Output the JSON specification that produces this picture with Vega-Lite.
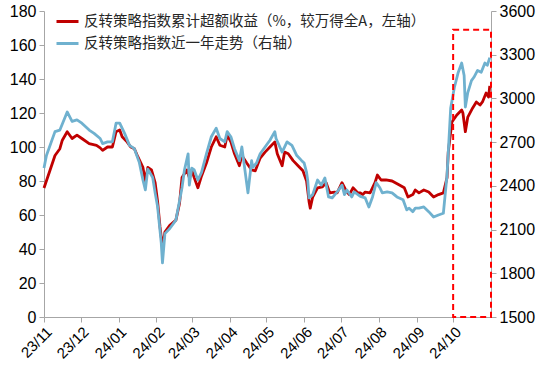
{
  "$schema": "https://vega.github.io/schema/vega-lite/v6.json",
  "width": 447,
  "height": 306,
  "autosize": "none",
  "padding": {"left": 44, "top": 11, "right": 59, "bottom": 59},
  "background": "white",
  "config": {
    "view": {"stroke": null},
    "font": "Liberation Sans",
    "axis": {
      "domainColor": "#A6A6A6",
      "tickColor": "#A6A6A6",
      "tickSize": 5,
      "grid": false,
      "labelColor": "#000000",
      "labelFont": "Liberation Sans",
      "labelFontSize": 16,
      "title": null
    },
    "legend": {
      "orient": "none",
      "legendX": 11,
      "legendY": -2,
      "symbolType": "stroke",
      "symbolStrokeWidth": 3,
      "symbolSize": 484,
      "labelFont": "Noto Sans CJK SC",
      "labelFontSize": 14.5,
      "labelColor": "#262626",
      "labelLimit": 500,
      "rowPadding": 3,
      "title": null
    }
  },
  "datasets": {
    "red": [
      {"date": "2023-11-01", "v": 75.9},
      {"date": "2023-11-06", "v": 86.5},
      {"date": "2023-11-10", "v": 95},
      {"date": "2023-11-14", "v": 99},
      {"date": "2023-11-16", "v": 104},
      {"date": "2023-11-20", "v": 109},
      {"date": "2023-11-24", "v": 105},
      {"date": "2023-11-28", "v": 107},
      {"date": "2023-12-02", "v": 105},
      {"date": "2023-12-08", "v": 102},
      {"date": "2023-12-14", "v": 101},
      {"date": "2023-12-17", "v": 99.5},
      {"date": "2023-12-19", "v": 98},
      {"date": "2023-12-23", "v": 100},
      {"date": "2023-12-27", "v": 100},
      {"date": "2023-12-30", "v": 109},
      {"date": "2024-01-02", "v": 110},
      {"date": "2024-01-04", "v": 106},
      {"date": "2024-01-08", "v": 103},
      {"date": "2024-01-11", "v": 100},
      {"date": "2024-01-14", "v": 99},
      {"date": "2024-01-17", "v": 94},
      {"date": "2024-01-21", "v": 88},
      {"date": "2024-01-23", "v": 80},
      {"date": "2024-01-25", "v": 88},
      {"date": "2024-01-28", "v": 86.5},
      {"date": "2024-01-31", "v": 79},
      {"date": "2024-02-02", "v": 68},
      {"date": "2024-02-04", "v": 53},
      {"date": "2024-02-06", "v": 41},
      {"date": "2024-02-08", "v": 50},
      {"date": "2024-02-12", "v": 54},
      {"date": "2024-02-17", "v": 57},
      {"date": "2024-02-20", "v": 67},
      {"date": "2024-02-22", "v": 82},
      {"date": "2024-02-26", "v": 86.5},
      {"date": "2024-02-28", "v": 82},
      {"date": "2024-03-01", "v": 86.5},
      {"date": "2024-03-03", "v": 82},
      {"date": "2024-03-06", "v": 76},
      {"date": "2024-03-09", "v": 83},
      {"date": "2024-03-13", "v": 90.6},
      {"date": "2024-03-17", "v": 100},
      {"date": "2024-03-21", "v": 106},
      {"date": "2024-03-24", "v": 101},
      {"date": "2024-03-28", "v": 100},
      {"date": "2024-03-30", "v": 107},
      {"date": "2024-04-02", "v": 103},
      {"date": "2024-04-05", "v": 96},
      {"date": "2024-04-09", "v": 89},
      {"date": "2024-04-11", "v": 95},
      {"date": "2024-04-15", "v": 90.6},
      {"date": "2024-04-19", "v": 86.5},
      {"date": "2024-04-22", "v": 86},
      {"date": "2024-04-26", "v": 93.5},
      {"date": "2024-04-30", "v": 97},
      {"date": "2024-05-04", "v": 100},
      {"date": "2024-05-08", "v": 103},
      {"date": "2024-05-10", "v": 96},
      {"date": "2024-05-14", "v": 89},
      {"date": "2024-05-16", "v": 97},
      {"date": "2024-05-19", "v": 96},
      {"date": "2024-05-23", "v": 92},
      {"date": "2024-05-27", "v": 89},
      {"date": "2024-05-31", "v": 86},
      {"date": "2024-06-03", "v": 80},
      {"date": "2024-06-05", "v": 68},
      {"date": "2024-06-06", "v": 64},
      {"date": "2024-06-08", "v": 70.6},
      {"date": "2024-06-12", "v": 76},
      {"date": "2024-06-16", "v": 76.5},
      {"date": "2024-06-19", "v": 79},
      {"date": "2024-06-22", "v": 73},
      {"date": "2024-06-26", "v": 73.5},
      {"date": "2024-06-28", "v": 73},
      {"date": "2024-07-02", "v": 79},
      {"date": "2024-07-06", "v": 73.5},
      {"date": "2024-07-08", "v": 72},
      {"date": "2024-07-11", "v": 76},
      {"date": "2024-07-15", "v": 73},
      {"date": "2024-07-17", "v": 73},
      {"date": "2024-07-19", "v": 72},
      {"date": "2024-07-21", "v": 73.5},
      {"date": "2024-07-25", "v": 73},
      {"date": "2024-07-29", "v": 79},
      {"date": "2024-07-31", "v": 83.5},
      {"date": "2024-08-03", "v": 80.6},
      {"date": "2024-08-07", "v": 80.6},
      {"date": "2024-08-12", "v": 80},
      {"date": "2024-08-18", "v": 77.6},
      {"date": "2024-08-22", "v": 76},
      {"date": "2024-08-25", "v": 70.6},
      {"date": "2024-08-29", "v": 72},
      {"date": "2024-08-31", "v": 74.7},
      {"date": "2024-09-03", "v": 73},
      {"date": "2024-09-07", "v": 74.7},
      {"date": "2024-09-11", "v": 73.5},
      {"date": "2024-09-15", "v": 70.6},
      {"date": "2024-09-19", "v": 72},
      {"date": "2024-09-23", "v": 73},
      {"date": "2024-09-26", "v": 82},
      {"date": "2024-09-27", "v": 97},
      {"date": "2024-09-30", "v": 114.7},
      {"date": "2024-10-04", "v": 118.8},
      {"date": "2024-10-08", "v": 121.8},
      {"date": "2024-10-09", "v": 120},
      {"date": "2024-10-11", "v": 109},
      {"date": "2024-10-13", "v": 117.6},
      {"date": "2024-10-17", "v": 123},
      {"date": "2024-10-20", "v": 126.5},
      {"date": "2024-10-23", "v": 124.7},
      {"date": "2024-10-25", "v": 126.5},
      {"date": "2024-10-28", "v": 131.8},
      {"date": "2024-10-30", "v": 129.4},
      {"date": "2024-10-31", "v": 136}
    ],
    "blue": [
      {"date": "2023-11-01", "v": 2522},
      {"date": "2023-11-03", "v": 2608},
      {"date": "2023-11-10", "v": 2772},
      {"date": "2023-11-14", "v": 2783},
      {"date": "2023-11-20", "v": 2907},
      {"date": "2023-11-24", "v": 2842},
      {"date": "2023-11-28", "v": 2853},
      {"date": "2023-12-02", "v": 2830},
      {"date": "2023-12-08", "v": 2783},
      {"date": "2023-12-12", "v": 2760},
      {"date": "2023-12-17", "v": 2725},
      {"date": "2023-12-19", "v": 2690},
      {"date": "2023-12-23", "v": 2702},
      {"date": "2023-12-27", "v": 2702},
      {"date": "2023-12-30", "v": 2830},
      {"date": "2024-01-02", "v": 2830},
      {"date": "2024-01-06", "v": 2760},
      {"date": "2024-01-10", "v": 2678},
      {"date": "2024-01-14", "v": 2655},
      {"date": "2024-01-18", "v": 2562},
      {"date": "2024-01-21", "v": 2440},
      {"date": "2024-01-23", "v": 2372},
      {"date": "2024-01-25", "v": 2515},
      {"date": "2024-01-29", "v": 2457},
      {"date": "2024-01-31", "v": 2352},
      {"date": "2024-02-02", "v": 2258},
      {"date": "2024-02-05", "v": 2008},
      {"date": "2024-02-06", "v": 1871},
      {"date": "2024-02-08", "v": 2072},
      {"date": "2024-02-12", "v": 2107},
      {"date": "2024-02-17", "v": 2165},
      {"date": "2024-02-22", "v": 2387},
      {"date": "2024-02-24", "v": 2509},
      {"date": "2024-02-27", "v": 2620},
      {"date": "2024-02-28", "v": 2405},
      {"date": "2024-03-01", "v": 2522},
      {"date": "2024-03-03", "v": 2509},
      {"date": "2024-03-06", "v": 2440},
      {"date": "2024-03-09", "v": 2492},
      {"date": "2024-03-13", "v": 2620},
      {"date": "2024-03-17", "v": 2737},
      {"date": "2024-03-21", "v": 2795},
      {"date": "2024-03-24", "v": 2725},
      {"date": "2024-03-28", "v": 2702},
      {"date": "2024-03-30", "v": 2772},
      {"date": "2024-04-02", "v": 2737},
      {"date": "2024-04-05", "v": 2655},
      {"date": "2024-04-09", "v": 2573},
      {"date": "2024-04-11", "v": 2667},
      {"date": "2024-04-16", "v": 2352},
      {"date": "2024-04-19", "v": 2573},
      {"date": "2024-04-20", "v": 2527},
      {"date": "2024-04-23", "v": 2557},
      {"date": "2024-04-26", "v": 2620},
      {"date": "2024-04-30", "v": 2667},
      {"date": "2024-05-04", "v": 2713},
      {"date": "2024-05-08", "v": 2772},
      {"date": "2024-05-09", "v": 2725},
      {"date": "2024-05-14", "v": 2632},
      {"date": "2024-05-18", "v": 2702},
      {"date": "2024-05-22", "v": 2678},
      {"date": "2024-05-26", "v": 2608},
      {"date": "2024-05-30", "v": 2573},
      {"date": "2024-06-01", "v": 2557},
      {"date": "2024-06-03", "v": 2492},
      {"date": "2024-06-04", "v": 2433},
      {"date": "2024-06-05", "v": 2317},
      {"date": "2024-06-08", "v": 2340},
      {"date": "2024-06-12", "v": 2440},
      {"date": "2024-06-15", "v": 2405},
      {"date": "2024-06-18", "v": 2454},
      {"date": "2024-06-21", "v": 2324},
      {"date": "2024-06-24", "v": 2317},
      {"date": "2024-06-28", "v": 2358},
      {"date": "2024-07-02", "v": 2405},
      {"date": "2024-07-04", "v": 2340},
      {"date": "2024-07-06", "v": 2372},
      {"date": "2024-07-10", "v": 2324},
      {"date": "2024-07-12", "v": 2358},
      {"date": "2024-07-17", "v": 2328},
      {"date": "2024-07-21", "v": 2317},
      {"date": "2024-07-24", "v": 2255},
      {"date": "2024-07-27", "v": 2324},
      {"date": "2024-07-30", "v": 2422},
      {"date": "2024-08-02", "v": 2387},
      {"date": "2024-08-04", "v": 2352},
      {"date": "2024-08-08", "v": 2358},
      {"date": "2024-08-12", "v": 2352},
      {"date": "2024-08-16", "v": 2324},
      {"date": "2024-08-21", "v": 2305},
      {"date": "2024-08-24", "v": 2235},
      {"date": "2024-08-26", "v": 2247},
      {"date": "2024-08-29", "v": 2223},
      {"date": "2024-08-31", "v": 2247},
      {"date": "2024-09-03", "v": 2247},
      {"date": "2024-09-07", "v": 2255},
      {"date": "2024-09-11", "v": 2223},
      {"date": "2024-09-15", "v": 2186},
      {"date": "2024-09-19", "v": 2200},
      {"date": "2024-09-23", "v": 2212},
      {"date": "2024-09-26", "v": 2474},
      {"date": "2024-09-29", "v": 2935},
      {"date": "2024-10-02", "v": 3075},
      {"date": "2024-10-05", "v": 3174},
      {"date": "2024-10-08", "v": 3243},
      {"date": "2024-10-10", "v": 3157},
      {"date": "2024-10-11", "v": 2941},
      {"date": "2024-10-13", "v": 3040},
      {"date": "2024-10-16", "v": 3122},
      {"date": "2024-10-18", "v": 3145},
      {"date": "2024-10-21", "v": 3192},
      {"date": "2024-10-24", "v": 3180},
      {"date": "2024-10-27", "v": 3243},
      {"date": "2024-10-29", "v": 3227},
      {"date": "2024-10-31", "v": 3280}
    ],
    "box": [
      {"start": "2024-10-01", "end": "2024-11-01", "low": 0, "high": 169}
    ]
  },
  "layer": [
    {
      "data": {"name": "red"},
      "mark": {"type": "line", "strokeWidth": 2.8, "strokeJoin": "round"},
      "encoding": {
        "x": {
          "field": "date",
          "type": "temporal",
          "scale": {"domain": [{"year": 2023, "month": 11, "date": 1}, {"year": 2024, "month": 11, "date": 1}]},
          "axis": {
            "values": [
              {"year": 2023, "month": 11, "date": 1},
              {"year": 2023, "month": 12, "date": 1},
              {"year": 2024, "month": 1, "date": 1},
              {"year": 2024, "month": 2, "date": 1},
              {"year": 2024, "month": 3, "date": 1},
              {"year": 2024, "month": 4, "date": 1},
              {"year": 2024, "month": 5, "date": 1},
              {"year": 2024, "month": 6, "date": 1},
              {"year": 2024, "month": 7, "date": 1},
              {"year": 2024, "month": 8, "date": 1},
              {"year": 2024, "month": 9, "date": 1},
              {"year": 2024, "month": 10, "date": 1}
            ],
            "format": "%y/%m",
            "labelAngle": -45,
            "labelAlign": "right",
            "labelBaseline": "top",
            "labelFontSize": 15,
            "labelPadding": 2,
            "labelOverlap": false,
            "labelFlush": false
          }
        },
        "y": {
          "field": "v",
          "type": "quantitative",
          "scale": {"domain": [0, 180], "nice": false, "zero": false},
          "axis": {"orient": "left", "values": [0, 20, 40, 60, 80, 100, 120, 140, 160, 180], "labelPadding": 3}
        },
        "color": {
          "datum": "反转策略指数累计超额收益（%，较万得全A，左轴）",
          "type": "nominal",
          "scale": {
            "domain": ["反转策略指数累计超额收益（%，较万得全A，左轴）", "反转策略指数近一年走势（右轴）"],
            "range": ["#C00000", "#6FB1CF"]
          }
        }
      }
    },
    {
      "data": {"name": "blue"},
      "mark": {"type": "line", "strokeWidth": 2.8, "strokeJoin": "round"},
      "encoding": {
        "x": {"field": "date", "type": "temporal"},
        "y": {
          "field": "v",
          "type": "quantitative",
          "scale": {"domain": [1500, 3600], "nice": false, "zero": false},
          "axis": {"orient": "right", "values": [1500, 1800, 2100, 2400, 2700, 3000, 3300, 3600], "format": "d", "labelPadding": 3}
        },
        "color": {"datum": "反转策略指数近一年走势（右轴）", "type": "nominal"}
      }
    },
    {
      "data": {"name": "box"},
      "mark": {"type": "rect", "filled": false, "stroke": "#FF0000", "strokeWidth": 2, "strokeDash": [6, 4]},
      "encoding": {
        "x": {"field": "start", "type": "temporal"},
        "x2": {"field": "end"},
        "y": {"field": "low", "type": "quantitative", "scale": {"domain": [0, 180], "nice": false, "zero": false}, "axis": null},
        "y2": {"field": "high"}
      }
    }
  ],
  "resolve": {"scale": {"y": "independent"}, "axis": {"y": "independent"}}
}
